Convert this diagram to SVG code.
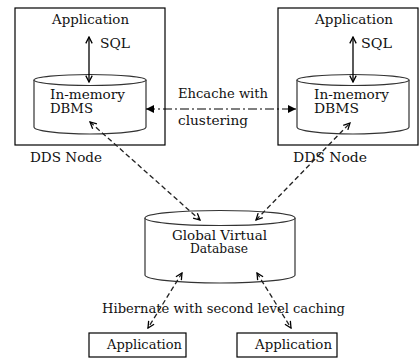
<svg xmlns="http://www.w3.org/2000/svg" width="419" height="358" viewBox="0 0 419 358">
  <style>
    .box { fill: #fff; stroke: #000; stroke-width: 1.2; }
    .cyl { fill: #fff; stroke: #333; stroke-width: 1.2; }
    .lbl { font-family: "DejaVu Serif", "Liberation Serif", serif; font-size: 12px; fill: #111; }
    .sql { stroke: #000; stroke-width: 1.3; fill: none; }
    .dash { stroke: #222; stroke-width: 1.3; fill: none; stroke-dasharray: 5 3; }
    .dashdot { stroke: #000; stroke-width: 1.2; fill: none; stroke-dasharray: 9 3 2 3; }
  </style>
  <defs>
    <marker id="vee" viewBox="0 0 10 10" refX="9" refY="5" markerWidth="8" markerHeight="8" markerUnits="userSpaceOnUse" orient="auto-start-reverse">
      <path d="M1,1 L9,5 L1,9" fill="none" stroke="#000" stroke-width="1.6"/>
    </marker>
    <marker id="tri" viewBox="0 0 10 10" refX="10" refY="5" markerWidth="9" markerHeight="8" markerUnits="userSpaceOnUse" orient="auto-start-reverse">
      <path d="M0,0 L10,5 L0,10 Z" fill="#000"/>
    </marker>
  </defs>

  <!-- left DDS node -->
  <g id="dds-left">
    <rect class="box" x="15" y="8" width="150" height="137"/>
    <text class="lbl" x="52" y="24" textLength="77" lengthAdjust="spacingAndGlyphs">Application</text>
    <text class="lbl" x="100" y="48" textLength="30" lengthAdjust="spacingAndGlyphs">SQL</text>
    <path class="cyl" d="M34,80 L34,127 A56,7 0 0 0 146,127 L146,80"/>
    <ellipse class="cyl" cx="90" cy="80" rx="56" ry="5.5"/>
    <text class="lbl" x="50" y="99" textLength="75" lengthAdjust="spacingAndGlyphs">In-memory</text>
    <text class="lbl" x="50" y="113" textLength="43" lengthAdjust="spacingAndGlyphs">DBMS</text>
    <text class="lbl" x="30" y="162" textLength="72" lengthAdjust="spacingAndGlyphs">DDS Node</text>
  </g>

  <!-- right DDS node -->
  <g id="dds-right">
    <rect class="box" x="278" y="8" width="140" height="137"/>
    <text class="lbl" x="315" y="24" textLength="78" lengthAdjust="spacingAndGlyphs">Application</text>
    <text class="lbl" x="361" y="48" textLength="31" lengthAdjust="spacingAndGlyphs">SQL</text>
    <path class="cyl" d="M297,80 L297,127 A56,7 0 0 0 409,127 L409,80"/>
    <ellipse class="cyl" cx="353" cy="80" rx="56" ry="5.5"/>
    <text class="lbl" x="314" y="99" textLength="75" lengthAdjust="spacingAndGlyphs">In-memory</text>
    <text class="lbl" x="314" y="113" textLength="45" lengthAdjust="spacingAndGlyphs">DBMS</text>
    <text class="lbl" x="293" y="162" textLength="74" lengthAdjust="spacingAndGlyphs">DDS Node</text>
  </g>

  <!-- global virtual database -->
  <g id="global-db">
    <path class="cyl" d="M145,218 L145,275 A75,8 0 0 0 295,275 L295,218"/>
    <ellipse class="cyl" cx="220" cy="218" rx="75" ry="7.5"/>
    <text class="lbl" x="172" y="240" textLength="95" lengthAdjust="spacingAndGlyphs">Global Virtual</text>
    <text class="lbl" x="190" y="253" textLength="58" lengthAdjust="spacingAndGlyphs">Database</text>
  </g>

  <!-- client applications -->
  <g id="app-left">
    <rect class="box" x="89" y="333" width="97" height="24"/>
    <text class="lbl" x="107" y="349" textLength="75" lengthAdjust="spacingAndGlyphs">Application</text>
  </g>
  <g id="app-right">
    <rect class="box" x="237" y="333" width="100" height="24"/>
    <text class="lbl" x="255" y="349" textLength="77" lengthAdjust="spacingAndGlyphs">Application</text>
  </g>

  <!-- edge labels -->
  <g id="labels">
    <text class="lbl" x="178" y="98" textLength="90" lengthAdjust="spacingAndGlyphs">Ehcache with</text>
    <text class="lbl" x="178" y="125" textLength="70" lengthAdjust="spacingAndGlyphs">clustering</text>
    <text class="lbl" x="102" y="313" textLength="243" lengthAdjust="spacingAndGlyphs">Hibernate with second level caching</text>
  </g>

  <!-- connectors -->
  <g id="connectors">
    <line class="sql" x1="89" y1="37" x2="89" y2="82" marker-start="url(#vee)" marker-end="url(#vee)"/>
    <line class="sql" x1="353" y1="37" x2="353" y2="82" marker-start="url(#vee)" marker-end="url(#vee)"/>
    <line class="dashdot" x1="146" y1="109" x2="296" y2="109" marker-start="url(#tri)" marker-end="url(#tri)"/>
    <line class="dash" x1="90" y1="122" x2="200" y2="220" marker-start="url(#vee)" marker-end="url(#vee)"/>
    <line class="dash" x1="256" y1="220" x2="350" y2="123" marker-start="url(#vee)" marker-end="url(#vee)"/>
    <line class="dash" x1="182" y1="273" x2="148" y2="328" marker-start="url(#vee)" marker-end="url(#vee)"/>
    <line class="dash" x1="257" y1="273" x2="291" y2="328" marker-start="url(#vee)" marker-end="url(#vee)"/>
  </g>
</svg>
